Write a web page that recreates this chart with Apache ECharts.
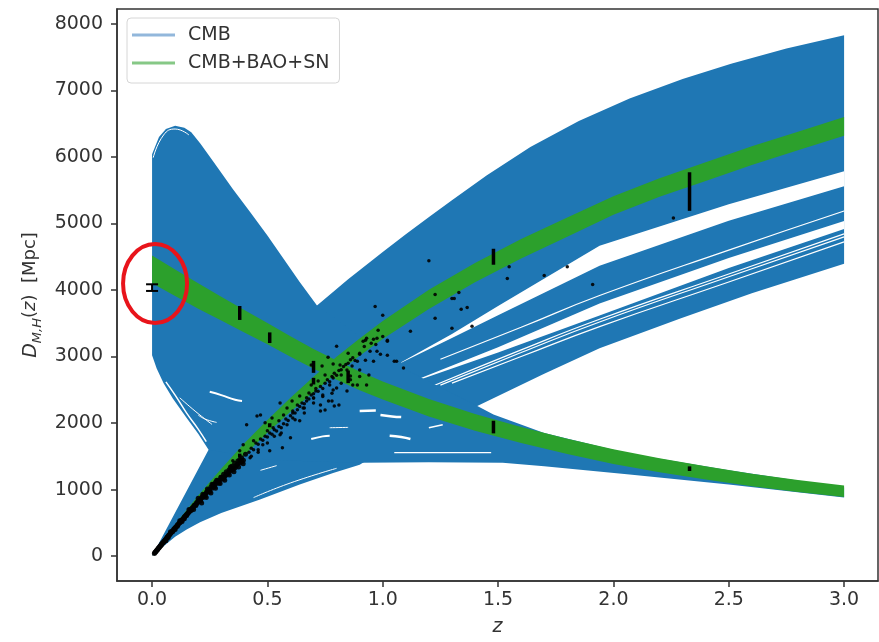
<!DOCTYPE html>
<html>
<head>
<meta charset="utf-8">
<script src="https://cdn.jsdelivr.net/npm/echarts@6/dist/echarts.min.js"></script>
<style>
  html, body { margin: 0; padding: 0; background: #fff; }
  #chart { width: 879px; height: 642px; }
</style>
</head>
<body>
<div id="chart"></div>
<script>
// axis ticks
const xTicks = [0, 0.5, 1.0, 1.5, 2.0, 2.5, 3.0];
const yTicks = [0, 1000, 2000, 3000, 4000, 5000, 6000, 7000, 8000];

// CMB family of D_M(z) curves: upper / lower envelope
const dmHiZ = [0, 0.245, 0.5, 0.715, 0.85, 1.0, 1.1, 1.205, 1.3, 1.45, 1.64, 1.85, 2.07, 2.3, 2.51, 2.75, 3.0];
const dmHi  = [0, 1600, 2800, 3768, 4160, 4570, 4840, 5110, 5350, 5720, 6150, 6540, 6880, 7170, 7400, 7630, 7830];
const dmLoZ = [0, 0.05, 0.1, 0.15, 0.208, 0.3, 0.468, 0.64, 0.785, 0.9, 1.1, 1.41, 1.7, 1.94, 2.29, 2.6, 3.0];
const dmLo  = [0, 150, 290, 400, 508, 650, 852, 1077, 1250, 1375, 1800, 2257, 2740, 3124, 3572, 3950, 4395];

// CMB family of D_H(z) curves
const dhHiZ = [0, 0.03, 0.06, 0.1, 0.14, 0.17, 0.21, 0.28, 0.35, 0.425, 0.5, 0.57, 0.64, 0.715, 0.9, 1.1, 1.41, 1.48, 1.7, 2.07, 2.5, 3.0];
const dhHi  = [6040, 6300, 6420, 6470, 6440, 6370, 6200, 5862, 5520, 5174, 4820, 4471, 4120, 3768, 3300, 2800, 2257, 2130, 1850, 1540, 1290, 1031];
const dhLoZ = [0, 0.02, 0.05, 0.09, 0.15, 0.2, 0.245, 0.5, 0.8, 0.9, 1.2, 1.52, 1.7, 2.07, 2.5, 3.0];
const dhLo  = [3020, 2820, 2600, 2370, 2078, 1840, 1600, 1450, 1410, 1405, 1410, 1405, 1350, 1226, 1076, 882];

// white gaps between groups of D_M curves
const gapAZ  = [1.08, 1.3, 1.5, 1.94, 2.5, 3.0];
const gapALo = [2905, 3280, 3620, 4366, 5040, 5560];
const gapAHi = [2915, 3340, 3760, 4665, 5290, 5785];
const gapBZ  = [1.16, 1.5, 1.94, 2.5, 3.0];
const gapBLo = [2650, 3060, 3617, 4330, 4918];
const gapBHi = [2670, 3140, 3797, 4480, 5037];

// thin white lines inside the D_M band
const dmLine1 = [[1.25, 2960], [1.6, 3440], [1.94, 3917], [2.5, 4600], [3.0, 5187]];
const dmLine2 = [[1.22, 2560], [1.6, 3100], [1.94, 3560], [2.5, 4240], [3.0, 4844]];
const dmLine3 = [[1.25, 2570], [1.6, 3060], [1.94, 3520], [2.5, 4200], [3.0, 4798]];
const dmLine4 = [[1.3, 2600], [1.6, 3000], [1.94, 3450], [2.5, 4120], [3.0, 4723]];
const dmLine5 = [[0.44, 880], [0.6, 1100], [0.8, 1320]];

// white streaks inside the D_H band  [points, width]
const dhStreaks = [
  [[[0.005, 5990], [0.05, 6330], [0.1, 6420], [0.16, 6330]], 1],
  [[[0.06, 2620], [0.1, 2420], [0.15, 2150], [0.2, 1910], [0.235, 1720]], 1.5],
  [[[0.12, 2380], [0.19, 2170], [0.26, 1980]], 1],
  [[[0.25, 2470], [0.3, 2420], [0.36, 2350], [0.39, 2330]], 2],
  [[[0.2, 2120], [0.23, 2060], [0.28, 2010]], 1],
  [[[0.9, 2183], [0.97, 2190]], 2.5],
  [[[0.99, 2120], [1.04, 2100], [1.08, 2090]], 2.5],
  [[[1.03, 1810], [1.08, 1790], [1.12, 1760]], 2.5],
  [[[1.05, 1555], [1.47, 1555]], 1.2],
  [[[0.69, 1760], [0.74, 1800], [0.77, 1810]], 2],
  [[[0.77, 1930], [0.85, 1935]], 1],
  [[[0.47, 1290], [0.54, 1360]], 1],
  [[[1.2, 1930], [1.26, 1975]], 1.5]
];

// CMB+BAO+SN bands: centre and half width
const gZ     = [0, 0.1, 0.2, 0.3, 0.4, 0.5, 0.6, 0.7, 0.8, 0.9, 1.0, 1.2, 1.4, 1.6, 1.8, 2.0, 2.2, 2.4, 2.6, 2.8, 3.0];
const gDmMid = [0, 430, 845, 1235, 1605, 1950, 2275, 2580, 2870, 3140, 3400, 3860, 4260, 4620, 4945, 5270, 5540, 5780, 6020, 6240, 6460];
const gDmHw  = [0, 45, 65, 80, 90, 95, 105, 115, 125, 130, 135, 145, 145, 145, 145, 140, 140, 140, 140, 140, 140];
const gDhMid = [4310, 4110, 3910, 3720, 3530, 3345, 3150, 2965, 2795, 2635, 2490, 2230, 2010, 1820, 1650, 1495, 1365, 1250, 1145, 1055, 975];
const gDhHw  = [210, 200, 190, 180, 170, 160, 155, 150, 145, 140, 135, 130, 125, 120, 115, 110, 105, 100, 95, 90, 85];

// supernovae
const snLow = [
  [0.010, 40], [0.012, 55], [0.014, 58], [0.016, 70], [0.018, 74], [0.020, 90], [0.022, 92], [0.024, 100],
  [0.026, 115], [0.028, 118], [0.030, 130], [0.032, 135], [0.034, 150], [0.036, 152], [0.038, 160], [0.040, 178],
  [0.042, 175], [0.044, 190], [0.046, 200], [0.048, 205], [0.050, 210], [0.052, 225], [0.054, 232], [0.056, 238],
  [0.058, 250], [0.060, 255], [0.062, 262], [0.064, 280], [0.066, 283], [0.068, 290], [0.070, 300], [0.072, 312],
  [0.074, 318], [0.076, 322], [0.078, 338], [0.080, 340], [0.083, 355], [0.086, 362], [0.089, 380], [0.092, 390],
  [0.095, 410], [0.098, 412], [0.101, 430], [0.104, 440], [0.107, 448], [0.110, 470], [0.113, 470], [0.116, 490],
  [0.119, 500], [0.122, 505], [0.125, 530], [0.128, 535], [0.131, 548], [0.134, 560], [0.137, 570], [0.140, 590],
  [0.143, 596], [0.146, 610], [0.149, 620], [0.152, 635], [0.155, 640], [0.158, 660], [0.161, 665], [0.164, 690],
  [0.167, 685], [0.170, 710], [0.173, 715], [0.176, 730], [0.179, 735], [0.182, 760], [0.185, 765], [0.188, 770],
  [0.191, 795], [0.194, 790], [0.197, 820], [0.200, 815], [0.204, 840], [0.208, 850], [0.212, 860], [0.216, 890],
  [0.220, 880], [0.224, 915], [0.228, 920], [0.232, 935], [0.236, 965], [0.240, 960], [0.245, 990], [0.250, 1000],
  [0.255, 1040], [0.260, 1020], [0.265, 1075], [0.270, 1060], [0.275, 1110], [0.280, 1090], [0.286, 1140], [0.292, 1130],
  [0.298, 1185], [0.304, 1160], [0.310, 1230], [0.316, 1200], [0.322, 1270], [0.328, 1240], [0.334, 1300], [0.340, 1280],
  [0.346, 1350], [0.352, 1320], [0.358, 1395], [0.365, 1360], [0.372, 1430], [0.380, 1400], [0.388, 1480], [0.396, 1440],
  [0.405, 1530], [0.06, 230], [0.08, 365], [0.10, 400], [0.12, 530], [0.14, 560], [0.16, 700], [0.18, 700],
  [0.20, 870], [0.22, 930], [0.24, 1010], [0.26, 1080], [0.28, 1140], [0.30, 1180], [0.32, 1220], [0.34, 1340],
  [0.36, 1330], [0.38, 1450], [0.07, 280], [0.09, 370], [0.11, 450], [0.13, 520], [0.15, 610], [0.17, 690],
  [0.19, 760], [0.21, 830], [0.23, 900], [0.25, 970], [0.27, 1040], [0.29, 1100], [0.31, 1170], [0.33, 1250],
  [0.35, 1300], [0.37, 1380], [0.39, 1420], [0.215, 800], [0.235, 880], [0.255, 950], [0.275, 1020], [0.295, 1090],
  [0.315, 1140], [0.335, 1220], [0.355, 1270], [0.375, 1340], [0.395, 1390]
];
const snMid = [
  [0.967, 3753], [1.0, 3619], [0.98, 3394], [0.925, 3245], [0.96, 3260], [1.02, 3245], [1.12, 3380], [0.80, 3155],
  [0.85, 3050], [0.90, 3035], [0.945, 3080], [0.99, 3035], [1.02, 3020], [1.06, 2930], [1.09, 2826], [0.89, 2930],
  [0.925, 2945], [0.96, 2930], [0.867, 2856], [0.90, 2796], [0.94, 2721], [0.763, 2990], [0.737, 2856], [0.785, 2886],
  [0.815, 2871], [0.845, 2796], [0.82, 2721], [0.86, 2706], [0.89, 2572], [0.785, 2677], [0.75, 2721], [0.72, 2632],
  [0.77, 2572], [0.80, 2527], [0.845, 2482], [0.69, 2572], [0.71, 2482], [0.74, 2422], [0.78, 2333], [0.81, 2273],
  [0.68, 2452], [0.70, 2378], [0.73, 2273], [0.75, 2198], [0.67, 2333], [0.64, 2407], [0.655, 2228], [0.63, 2273],
  [0.607, 2333], [0.61, 2153], [0.585, 2228], [0.57, 2123], [0.555, 2303], [0.55, 2034], [0.52, 2078], [0.49, 2004],
  [0.47, 2123], [0.41, 1974], [0.455, 2108], [0.5, 1884], [0.525, 1929], [0.555, 1824], [0.585, 1974], [0.6, 1780],
  [0.61, 2078], [0.44, 1735], [0.48, 1675], [0.51, 1585], [0.38, 1585], [0.425, 1480], [0.35, 1435], [0.34, 1286],
  [0.395, 1675], [0.46, 1600], [0.565, 1630], [0.64, 2034], [0.66, 2228], [0.70, 2378], [0.73, 2183], [0.765, 2333],
  [0.785, 2497], [0.79, 2258], [0.69, 2871], [0.915, 3230], [0.93, 3275], [0.975, 3275], [0.975, 3080], [1.02, 3230],
  [1.05, 2930], [0.93, 2572], [0.87, 2572],
  [0.42, 1560], [0.43, 1620], [0.44, 1600], [0.45, 1700], [0.46, 1680], [0.47, 1760], [0.48, 1740], [0.49, 1800],
  [0.50, 1790], [0.51, 1850], [0.52, 1830], [0.53, 1900], [0.54, 1880], [0.55, 1950], [0.56, 1930], [0.57, 1990],
  [0.58, 2060], [0.59, 2040], [0.60, 2110], [0.61, 2180], [0.62, 2150], [0.63, 2200], [0.64, 2250], [0.65, 2300],
  [0.66, 2290], [0.67, 2380], [0.68, 2360], [0.69, 2420], [0.70, 2440], [0.71, 2520], [0.72, 2480], [0.73, 2550],
  [0.74, 2520], [0.75, 2600], [0.76, 2650], [0.77, 2620], [0.78, 2700], [0.79, 2750], [0.80, 2720], [0.81, 2790],
  [0.82, 2800], [0.83, 2850], [0.84, 2880], [0.85, 2900], [0.86, 2950], [0.87, 2980], [0.88, 2940], [0.90, 3050],
  [0.92, 3150], [0.95, 3200], [0.97, 3180], [1.0, 3300], [0.43, 1500], [0.46, 1560], [0.5, 1700], [0.53, 1800],
  [0.56, 1850], [0.62, 2050], [0.66, 2150], [0.7, 2300], [0.74, 2400], [0.78, 2450], [0.82, 2600], [0.86, 2650],
  [0.9, 2700]
];
const snHigh = [
  [1.227, 3933], [1.30, 3873], [1.31, 3873], [1.33, 3963], [1.366, 3738], [1.34, 3709], [1.227, 3574], [1.30, 3424],
  [1.387, 3454], [1.20, 4441], [1.548, 4351], [1.54, 4172], [1.70, 4217], [1.80, 4351], [1.91, 4082], [2.26, 5082]
];

// BAO and H0 measurements: z, value, error, cap (px)
const baoZ   = [0.0, 0.38, 0.38, 0.51, 0.51, 0.70, 0.70, 0.85, 1.48, 1.48, 2.33, 2.33];
const baoVal = [4036, 3655, 1510, 3283, 1967, 2845, 2630, 2695, 4500, 1940, 5480, 1314];
const baoErr = [50, 105, 30, 80, 30, 90, 50, 95, 120, 95, 290, 35];
const baoCap = [6, 0, 0, 0, 0, 0, 0, 0, 0, 0, 0, 0];

// highlighted measurement
const circleAt = [0.013, 4097];

const BLUE = '#1f77b4';
const GREEN = '#2ca02c';
const FONT = 'DejaVu Sans';

function band(name, upZ, up, loZ, lo, color, z) {
  return {
    type: 'custom', name: name, silent: true, z: z, clip: true,
    data: [[upZ[0], up[0]]],
    renderItem: function (params, api) {
      const pts = [];
      for (let i = 0; i < upZ.length; i++) pts.push(api.coord([upZ[i], up[i]]));
      for (let i = loZ.length - 1; i >= 0; i--) pts.push(api.coord([loZ[i], lo[i]]));
      return { type: 'polygon', shape: { points: pts }, style: { fill: color, stroke: null } };
    }
  };
}

function whiteLine(points, width, z) {
  return {
    type: 'line', data: points, smooth: true, showSymbol: false, silent: true, z: z,
    lineStyle: { color: '#fff', width: width }
  };
}

const series = [];
series.push(band('CMB', dmHiZ, dmHi, dmLoZ, dmLo, BLUE, 1));
series.push(band('', gapAZ, gapAHi, gapAZ, gapALo, '#fff', 2));
series.push(band('', gapBZ, gapBHi, gapBZ, gapBLo, '#fff', 2));
[dmLine1, dmLine2, dmLine3, dmLine4].forEach(l => series.push(whiteLine(l, 1.2, 2)));
series.push(band('CMB', dhHiZ, dhHi, dhLoZ, dhLo, BLUE, 3));
dhStreaks.forEach(s => series.push(whiteLine(s[0], s[1], 4)));
series.push(whiteLine(dmLine5, 1, 4));

const gDmHi = gDmMid.map((v, i) => v + gDmHw[i]);
const gDmLo = gDmMid.map((v, i) => v - gDmHw[i]);
const gDhHi = gDhMid.map((v, i) => v + gDhHw[i]);
const gDhLo = gDhMid.map((v, i) => v - gDhHw[i]);
series.push(band('CMB+BAO+SN', gZ, gDmHi, gZ, gDmLo, GREEN, 5));
series.push(band('CMB+BAO+SN', gZ, gDhHi, gZ, gDhLo, GREEN, 5));

series.push({
  type: 'scatter', silent: true, z: 6,
  data: snLow,
  symbolSize: 5,
  itemStyle: { color: '#000', opacity: 0.9 }
});
series.push({
  type: 'scatter', silent: true, z: 6,
  data: snMid.concat(snHigh),
  symbolSize: 3.5,
  itemStyle: { color: '#000', opacity: 0.9 }
});

series.push({
  type: 'custom', silent: true, z: 7,
  data: baoZ.map((z, i) => [z, baoVal[i], baoErr[i], baoCap[i]]),
  renderItem: function (params, api) {
    const z = api.value(0), v = api.value(1), e = api.value(2), cap = api.value(3);
    const top = api.coord([z, v + e]);
    const bot = api.coord([z, v - e]);
    const children = [{
      type: 'line', shape: { x1: top[0], y1: top[1], x2: bot[0], y2: bot[1] },
      style: { stroke: '#000', lineWidth: cap ? 2 : 3.5 }
    }];
    if (cap) {
      [top, bot].forEach(p => children.push({
        type: 'line', shape: { x1: p[0] - cap, y1: p[1], x2: p[0] + cap, y2: p[1] },
        style: { stroke: '#000', lineWidth: 2 }
      }));
    }
    return { type: 'group', children: children };
  }
});

series.push({
  type: 'custom', silent: true, z: 8, clip: false,
  data: [circleAt],
  renderItem: function (params, api) {
    const c = api.coord([api.value(0), api.value(1)]);
    return {
      type: 'ellipse', shape: { cx: c[0], cy: c[1], rx: 32, ry: 39.5 },
      style: { fill: null, stroke: '#e8141b', lineWidth: 4 }
    };
  }
});

const chart = echarts.init(document.getElementById('chart'), null, { renderer: 'canvas' });
chart.setOption({
  animation: false,
  backgroundColor: '#fff',
  grid: { left: 117, top: 9, right: 1, bottom: 58, show: true, borderColor: '#333', borderWidth: 1.5 },
  legend: {
    orient: 'vertical', left: 127, top: 18, selectedMode: false,
    padding: [6, 10, 9, 5], itemGap: 6, itemWidth: 43, itemHeight: 3, icon: 'rect',
    backgroundColor: 'rgba(255,255,255,0.85)', borderColor: '#d6d6d6', borderWidth: 1, borderRadius: 4,
    textStyle: { fontFamily: FONT, fontSize: 19, color: '#333', lineHeight: 22, padding: [0, 0, 0, 8] },
    data: [
      { name: 'CMB', itemStyle: { color: '#92b7db' } },
      { name: 'CMB+BAO+SN', itemStyle: { color: '#86c886' } }
    ]
  },
  xAxis: {
    type: 'value', min: -0.152, max: 3.147,
    name: 'z', nameLocation: 'middle', nameGap: 37,
    nameTextStyle: { fontFamily: FONT, fontSize: 19, fontStyle: 'italic', color: '#333' },
    axisLine: { show: true, onZero: false, lineStyle: { color: '#333', width: 1.5 } },
    axisTick: { show: true, customValues: xTicks, length: 6, lineStyle: { color: '#333', width: 1.5 } },
    axisLabel: { customValues: xTicks, formatter: v => v.toFixed(1), margin: 10,
      fontFamily: FONT, fontSize: 19, color: '#333' },
    splitLine: { show: false }
  },
  yAxis: {
    type: 'value', min: -374, max: 8224,
    name: '{d|D}{s|M,H}{n|(}{i|z}{n|)  [Mpc]}', nameLocation: 'middle', nameGap: 70,
    nameTextStyle: {
      color: '#333',
      rich: {
        d: { fontFamily: FONT, fontSize: 19, fontStyle: 'italic', color: '#333', height: 26, verticalAlign: 'middle' },
        s: { fontFamily: FONT, fontSize: 13, fontStyle: 'italic', color: '#333', verticalAlign: 'bottom' },
        n: { fontFamily: FONT, fontSize: 18, color: '#333', height: 26, verticalAlign: 'middle' },
        i: { fontFamily: FONT, fontSize: 18, fontStyle: 'italic', color: '#333', height: 26, verticalAlign: 'middle' }
      }
    },
    axisLine: { show: true, onZero: false, lineStyle: { color: '#333', width: 1.5 } },
    axisTick: { show: true, customValues: yTicks, length: 6, lineStyle: { color: '#333', width: 1.5 } },
    axisLabel: { customValues: yTicks, formatter: v => String(v), margin: 14,
      fontFamily: FONT, fontSize: 19, color: '#333' },
    splitLine: { show: false }
  },
  series: series
});
</script>
</body>
</html>
